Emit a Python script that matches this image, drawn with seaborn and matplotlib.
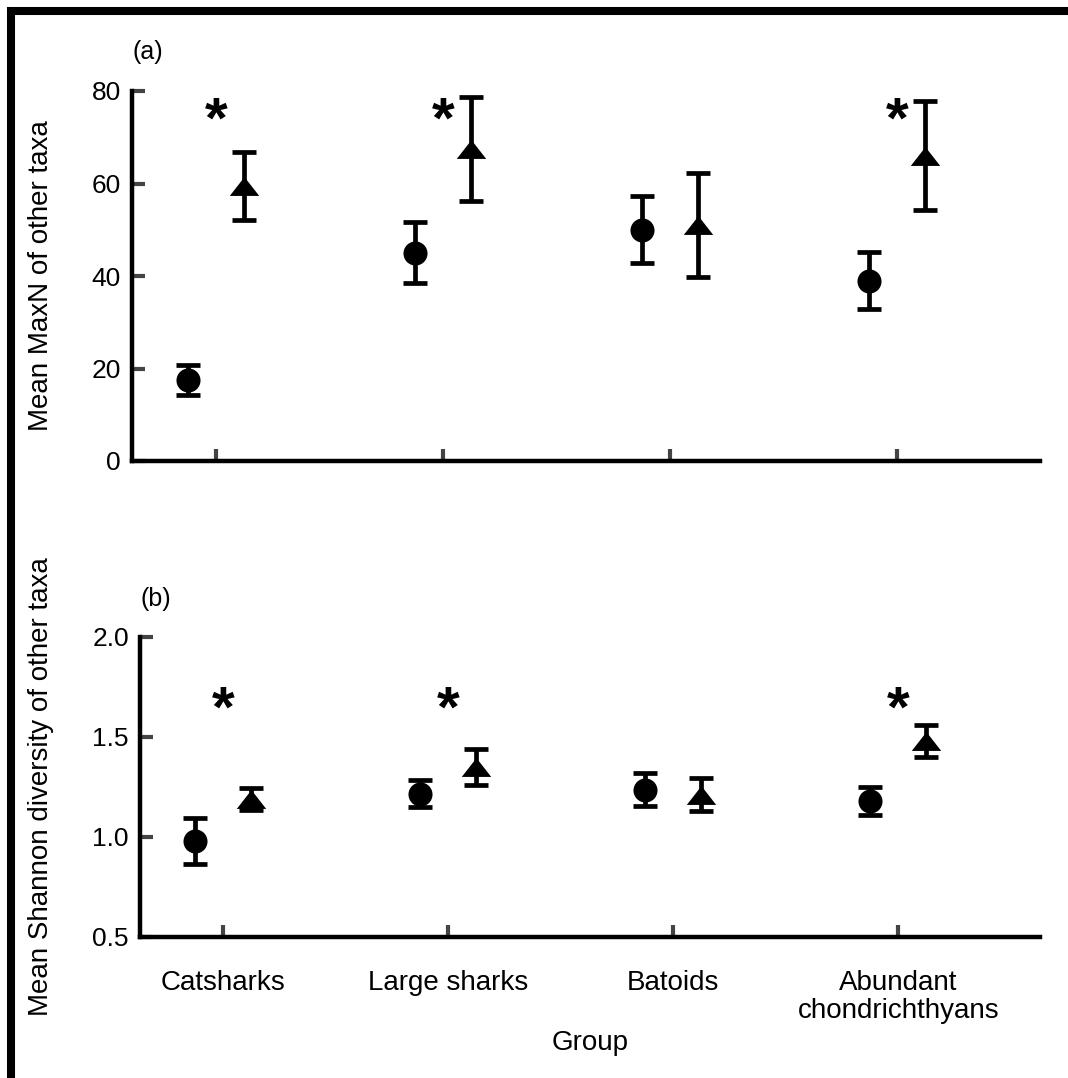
import numpy as np
import pandas as pd
import matplotlib
matplotlib.use("Agg")
import matplotlib.pyplot as plt
import seaborn as sns
from matplotlib.patches import Rectangle

# ---------------- data ----------------
groups = ["Catsharks", "Large sharks", "Batoids", "Abundant\nchondrichthyans"]
series = ["circle", "triangle"]

maxn_circle = [17.5, 45.0, 50.0, 39.0]
maxn_circle_err = [3.3, 6.6, 7.2, 6.2]
maxn_triangle = [59.5, 67.5, 51.0, 66.0]
maxn_triangle_err = [7.3, 11.3, 11.3, 11.8]

shannon_circle = [0.98, 1.215, 1.235, 1.178]
shannon_circle_err = [0.115, 0.068, 0.082, 0.07]
shannon_triangle = [1.19, 1.35, 1.21, 1.48]
shannon_triangle_err = [0.055, 0.09, 0.082, 0.08]

significant = [True, True, False, True]
star_level_a = 74.4
star_level_b = 1.655

# ---------------- style ----------------
sns.set_style("ticks")
plt.rcParams["font.family"] = ["Liberation Sans", "DejaVu Sans"]
plt.rcParams["text.color"] = "black"
plt.rcParams["axes.labelcolor"] = "black"

W, H = 1068, 1078
fig = plt.figure(figsize=(W / 100, H / 100), dpi=100)

ax_a = fig.add_axes([132 / W, 1 - 461 / H, 908 / W, 370 / H])
ax_b = fig.add_axes([140 / W, 1 - 936.7 / H, 900 / W, 300 / H])

offset = {"circle": -0.125, "triangle": 0.125}
tri_verts = [(-1.0, -0.64), (1.0, -0.64), (0.0, 0.64), (-1.0, -0.64)]
marker_of = {"circle": "o", "triangle": tri_verts}
size_of = {"circle": 300, "triangle": 450}


def make_df(c, ce, t, te):
    rows = []
    for s, vals, errs in (("circle", c, ce), ("triangle", t, te)):
        for i, g in enumerate(groups):
            rows.append({"group": g, "idx": i, "series": s,
                         "pos": i + offset[s], "mean": vals[i], "err": errs[i]})
    return pd.DataFrame(rows)


df_a = make_df(maxn_circle, maxn_circle_err, maxn_triangle, maxn_triangle_err)
df_b = make_df(shannon_circle, shannon_circle_err, shannon_triangle, shannon_triangle_err)


def draw(ax, df, star_level):
    ax.errorbar(df["pos"], df["mean"], yerr=df["err"], fmt="none",
                ecolor="black", elinewidth=3.4, capsize=8.5, capthick=3.4, zorder=2)
    for s in series:
        sub = df[df["series"] == s]
        sns.scatterplot(data=sub, x="pos", y="mean", marker=marker_of[s],
                        s=size_of[s], color="black", edgecolor="black",
                        linewidth=0, ax=ax, legend=False, zorder=3)
    for i, sig in enumerate(significant):
        if sig:
            ax.text(i, star_level, "*", ha="center", va="center_baseline",
                    fontsize=42, fontweight="bold", color="black")
    ax.set_xlim(-0.37, 3.63)
    ax.set_xticks(range(len(groups)))
    for sp in ("top", "right"):
        ax.spines[sp].set_visible(False)
    for sp in ("left", "bottom"):
        ax.spines[sp].set_linewidth(3.2)
        ax.spines[sp].set_color("black")
    ax.tick_params(axis="both", direction="in", length=9, width=3,
                   color="#444444", labelsize=19, labelcolor="black")
    ax.tick_params(axis="y", pad=8)
    ax.tick_params(axis="x", pad=24)


draw(ax_a, df_a, star_level_a)
ax_a.set_ylim(0, 80)
ax_a.set_yticks([0, 20, 40, 60, 80])
ax_a.tick_params(axis="x", labelbottom=False)
ax_a.set_xlabel("")
ax_a.set_ylabel("Mean MaxN of other taxa", fontsize=20)
ax_a.yaxis.set_label_coords(-0.086, 0.5)
ax_a.text(148 / W, 1 - 52 / H, "(a)", transform=fig.transFigure,
          ha="center", va="center", fontsize=18, color="black")

draw(ax_b, df_b, star_level_b)
ax_b.set_ylim(0.5, 2.0)
ax_b.set_yticks([0.5, 1.0, 1.5, 2.0])
ax_b.set_yticklabels([f"{v:.1f}" for v in [0.5, 1.0, 1.5, 2.0]])
ax_b.set_xticklabels(groups, fontsize=20, linespacing=1.1)
ax_b.set_xlabel("Group", fontsize=20)
ax_b.xaxis.set_label_coords(0.5, -0.31)
ax_b.set_ylabel("Mean Shannon diversity of other taxa", fontsize=20)
ax_b.yaxis.set_label_coords(-0.095, 0.5)
ax_b.text(156 / W, 1 - 599 / H, "(b)", transform=fig.transFigure,
          ha="center", va="center", fontsize=18, color="black")

# figure frame (thick black at top and left, cropped at right/bottom)
fig.patches.append(Rectangle((11 / W, -0.1), 1.2, 1 - 11 / H + 0.1,
                             transform=fig.transFigure, fill=False,
                             edgecolor="black", linewidth=5.8, zorder=10))

fig.savefig("out.png", dpi=100)
